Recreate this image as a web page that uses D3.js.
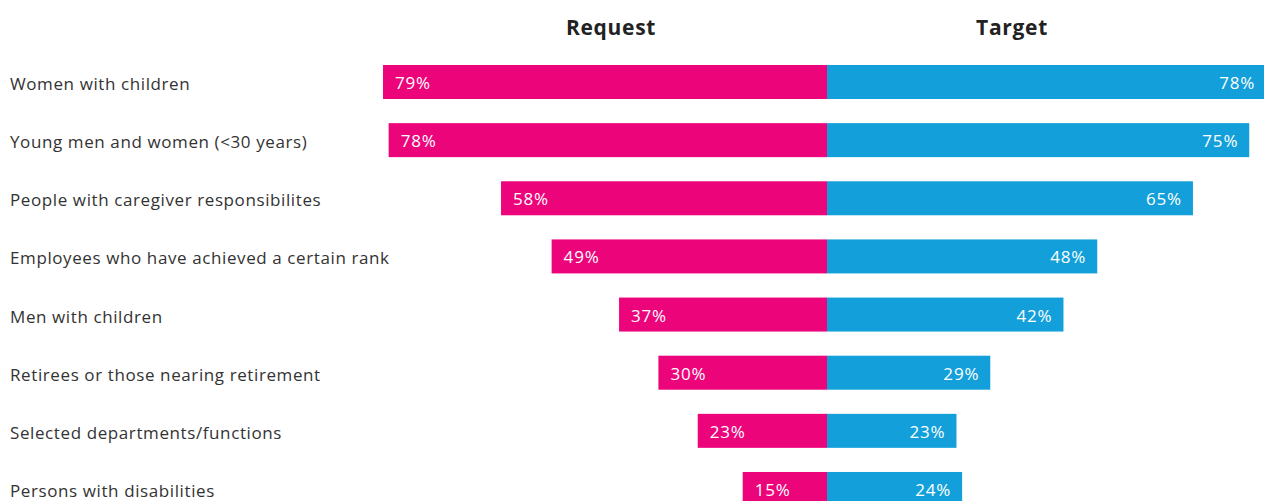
<!DOCTYPE html>
<html>
<head>
<meta charset="utf-8">
<script src="https://cdn.jsdelivr.net/npm/d3@7"></script>
<style>
  body { margin: 0; background: #fff; }
  svg { display: block; font-family: "Open Sans", Lato, sans-serif; }
</style>
</head>
<body>
<svg id="chart" width="1264" height="501"></svg>
<script>
var categories = [
  "Women with children",
  "Young men and women (<30 years)",
  "People with caregiver responsibilites",
  "Employees who have achieved a certain rank",
  "Men with children",
  "Retirees or those nearing retirement",
  "Selected departments/functions",
  "Persons with disabilities"
];
var requestValues = [79, 78, 58, 49, 37, 30, 23, 15];
var targetValues = [78, 75, 65, 48, 42, 29, 23, 24];
var seriesNames = ["Request", "Target"];

var pink = "#ec047b", blue = "#13a0da";
var center = 827, barH = 34;

var svg = d3.select("#chart");

var xL = d3.scaleLinear().domain([0, 100]).range([center, center - 562]);
var xR = d3.scaleLinear().domain([0, 100]).range([center, center + 563]);
var y = d3.scalePoint().domain(categories).range([82, 82 + 7 * 58.14]);

var rows = categories.map((c, i) => ({cat: c, req: requestValues[i], tgt: targetValues[i]}));

// titles
svg.selectAll(".title")
   .data([{t: seriesNames[0], x: 611}, {t: seriesNames[1], x: 1012}])
   .enter()
   .append("text")
   .attr("class", "title")
   .attr("x", d => d.x).attr("y", 35)
   .attr("text-anchor", "middle")
   .attr("font-size", 21).attr("font-weight", 700).attr("fill", "#222")
   .attr("letter-spacing", 0.7)
   .text(d => d.t);

// category labels
svg.selectAll(".cat")
   .data(rows)
   .enter()
   .append("text")
   .attr("class", "cat")
   .attr("x", 10)
   .attr("y", d => y(d.cat) + 2)
   .attr("dy", "0.35em")
   .attr("font-size", 17).attr("fill", "#333")
   .attr("letter-spacing", 0.6)
   .text(d => d.cat);

// request bars
svg.selectAll(".req")
   .data(rows)
   .enter()
   .append("rect")
   .attr("class", "req")
   .attr("x", d => xL(d.req))
   .attr("y", d => y(d.cat) - barH / 2)
   .attr("width", d => center - xL(d.req))
   .attr("height", barH)
   .attr("fill", pink);

// target bars
svg.selectAll(".tgt")
   .data(rows)
   .enter()
   .append("rect")
   .attr("class", "tgt")
   .attr("x", center)
   .attr("y", d => y(d.cat) - barH / 2)
   .attr("width", d => xR(d.tgt) - center)
   .attr("height", barH)
   .attr("fill", blue);

// value labels
svg.selectAll(".reqLbl")
   .data(rows)
   .enter()
   .append("text")
   .attr("x", d => xL(d.req) + 12)
   .attr("y", d => y(d.cat) + 1)
   .attr("dy", "0.35em")
   .attr("font-size", 17).attr("fill", "#fff")
   .attr("letter-spacing", 0.8)
   .text(d => d.req + "%");

svg.selectAll(".tgtLbl")
   .data(rows)
   .enter()
   .append("text")
   .attr("x", d => xR(d.tgt) - 11)
   .attr("y", d => y(d.cat) + 1)
   .attr("dy", "0.35em")
   .attr("text-anchor", "end")
   .attr("font-size", 17).attr("fill", "#fff")
   .attr("letter-spacing", 0.8)
   .text(d => d.tgt + "%");
</script>
</body>
</html>
